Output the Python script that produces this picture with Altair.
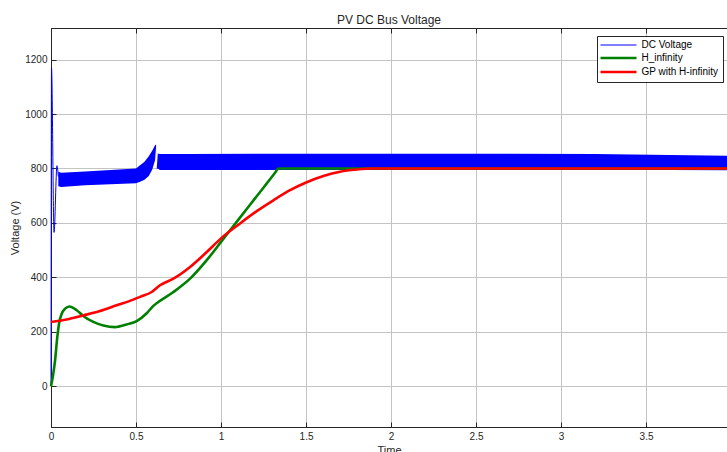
import altair as alt
import pandas as pd

FONT = "Liberation Sans"
TXT = "#262626"
GRID = "#c4c4c4"

# ---------------- data ----------------
series = ["DC Voltage", "H_infinity", "GP with H-infinity"]
colors = ["#0000ff", "#008000", "#ff0000"]
widths = [1, 2.6, 2.6]

x_ticks = [0, 0.5, 1, 1.5, 2, 2.5, 3, 3.5]
y_ticks = [0, 200, 400, 600, 800, 1000, 1200]
X_MAX = 3.976
Y_MIN, Y_MAX = -150, 1316

# DC Voltage start-up transient
dc_t = [0.0, 0.003, 0.018, 0.035, 0.043]
dc_v = [0, 1170, 565, 810, 770]

# DC Voltage oscillation envelope (upper / lower)
band_t = [0.043, 0.06, 0.2, 0.35, 0.5, 0.524, 0.55, 0.575, 0.595, 0.612, 0.618,
          0.622, 0.628, 0.64, 0.8, 1.5, 2.5, 3.2, 3.64, 3.976]
band_hi = [788, 784, 789, 794, 800, 812, 825, 845, 865, 885, 888,
           800, 855, 853, 853, 854, 854, 853, 849, 847]
band_lo = [735, 732, 738, 742, 746, 751, 758, 772, 795, 830, 880,
           797, 800, 794, 794, 794, 794, 794, 794, 793]

# H_infinity
g_t = [0, 0.012, 0.024, 0.037, 0.049, 0.063, 0.083, 0.108, 0.151, 0.19, 0.249,
       0.308, 0.376, 0.445, 0.504, 0.563, 0.602, 0.631, 0.72, 0.818, 0.916,
       1.0, 1.1, 1.2, 1.32, 1.337, 2.5, 3.976]
g_v = [0, 40, 95, 180, 236, 266, 285, 293, 279, 258, 236,
       223, 217, 227, 239, 268, 295, 309, 346, 395, 463,
       530, 610, 690, 786, 800, 800, 800]

# GP with H-infinity
r_t = [0, 0.092, 0.19, 0.288, 0.386, 0.484, 0.524, 0.592, 0.641, 0.72, 0.818,
       0.916, 1.0, 1.112, 1.21, 1.308, 1.406, 1.504, 1.602, 1.7, 1.798, 1.896,
       2.2, 3.976]
r_v = [236, 245, 260, 276, 297, 318, 328, 346, 371, 395, 438,
       493, 543, 598, 643, 683, 720, 749, 772, 788, 796, 800,
       800, 800]

dc_df = pd.DataFrame({"t": dc_t, "v": dc_v, "series": series[0]})
band_df = pd.DataFrame({"t": band_t, "hi": band_hi, "lo": band_lo})
g_df = pd.DataFrame({"t": g_t, "v": g_v, "series": series[1]})
r_df = pd.DataFrame({"t": r_t, "v": r_v, "series": series[2]})

# ---------------- encodings ----------------
x_scale = alt.Scale(domain=[0, X_MAX], nice=False, zero=False)
y_scale = alt.Scale(domain=[Y_MIN, Y_MAX], nice=False, zero=False)

x_axis = alt.Axis(values=x_ticks, format="~g", title="Time", grid=True,
                  gridColor=GRID, gridOpacity=1, domainColor=TXT, ticks=False,
                  labelFont=FONT, labelFontSize=10, labelColor=TXT, labelPadding=4,
                  titleFont=FONT, titleFontSize=11, titleFontWeight="normal",
                  titleColor=TXT, titlePadding=3, labelFlush=False)
y_axis = alt.Axis(values=y_ticks, format="d", title="Voltage (V)", grid=True,
                  gridColor=GRID, gridOpacity=1, domainColor=TXT, ticks=False,
                  labelFont=FONT, labelFontSize=10, labelColor=TXT, labelPadding=4,
                  titleFont=FONT, titleFontSize=11, titleFontWeight="normal",
                  titleColor=TXT, titlePadding=4)

leg = alt.Legend(orient="none", legendX=546, legendY=8, title=None,
                 fillColor="white", strokeColor=TXT, padding=4,
                 labelFont=FONT, labelFontSize=10, labelColor="#000000",
                 symbolType="M-4.5,0H4.5", symbolSize=64, symbolOffset=12.5,
                 symbolStrokeWidth=alt.ExprRef(
                     "datum.value == 'DC Voltage' ? 1 : 2.6"),
                 labelOffset=18, rowPadding=2, cornerRadius=0)

c_scale = alt.Scale(domain=series, range=colors)


def line_layer(df, w):
    return alt.Chart(df).mark_line(interpolate="monotone", strokeWidth=w).encode(
        x=alt.X("t:Q", scale=x_scale, axis=None),
        y=alt.Y("v:Q", scale=y_scale, axis=None),
        color=alt.Color("series:N", scale=c_scale, legend=leg),
    )


band = alt.Chart(band_df).mark_area(color="#0000ff", opacity=1).encode(
    x=alt.X("t:Q", scale=x_scale, axis=x_axis),
    y=alt.Y("hi:Q", scale=y_scale, axis=y_axis),
    y2="lo:Q",
)

dc_line = line_layer(dc_df, widths[0])
g_line = line_layer(g_df, widths[1])
r_line = line_layer(r_df, widths[2])

# frame: top border and inward ticks
top_frame = alt.Chart(dc_df).mark_point(opacity=0).encode(
    x=alt.X("t:Q", scale=x_scale,
            axis=alt.Axis(orient="top", labels=False, ticks=False, grid=False,
                          domain=True, domainColor=TXT, title=None)),
    y=alt.Y("v:Q", scale=y_scale, axis=None),
)
bottom_ticks = alt.Chart(dc_df).mark_point(opacity=0).encode(
    x=alt.X("t:Q", scale=x_scale,
            axis=alt.Axis(orient="bottom", values=x_ticks, labels=False, ticks=True,
                          tickSize=5, tickColor=TXT, grid=False, domain=False,
                          title=None, offset=-5)),
    y=alt.Y("v:Q", scale=y_scale, axis=None),
)
top_ticks = alt.Chart(dc_df).mark_point(opacity=0).encode(
    x=alt.X("t:Q", scale=x_scale,
            axis=alt.Axis(orient="top", values=x_ticks, labels=False, ticks=True,
                          tickSize=5, tickColor=TXT, grid=False, domain=False,
                          title=None, offset=-5)),
    y=alt.Y("v:Q", scale=y_scale, axis=None),
)
left_ticks = alt.Chart(dc_df).mark_point(opacity=0).encode(
    x=alt.X("t:Q", scale=x_scale, axis=None),
    y=alt.Y("v:Q", scale=y_scale,
            axis=alt.Axis(orient="left", values=y_ticks, labels=False, ticks=True,
                          tickSize=5, tickColor=TXT, grid=False, domain=False,
                          title=None, offset=-5)),
)

chart = (
    alt.layer(band, dc_line, g_line, r_line, top_frame, bottom_ticks, top_ticks, left_ticks)
    .resolve_axis(x="independent", y="independent")
    .properties(
        width=676,
        height=399,
        autosize=alt.AutoSizeParams(type="none"),
        padding={"left": 51, "top": 28, "right": 0, "bottom": 25},
        title=alt.TitleParams("PV DC Bus Voltage", font=FONT, fontSize=12,
                              fontWeight="normal", color=TXT, offset=1, anchor="middle"),
        background="white",
    )
    .configure_view(stroke=None)
)

chart.save("out.html", embed_options={"renderer": "svg", "actions": False})
